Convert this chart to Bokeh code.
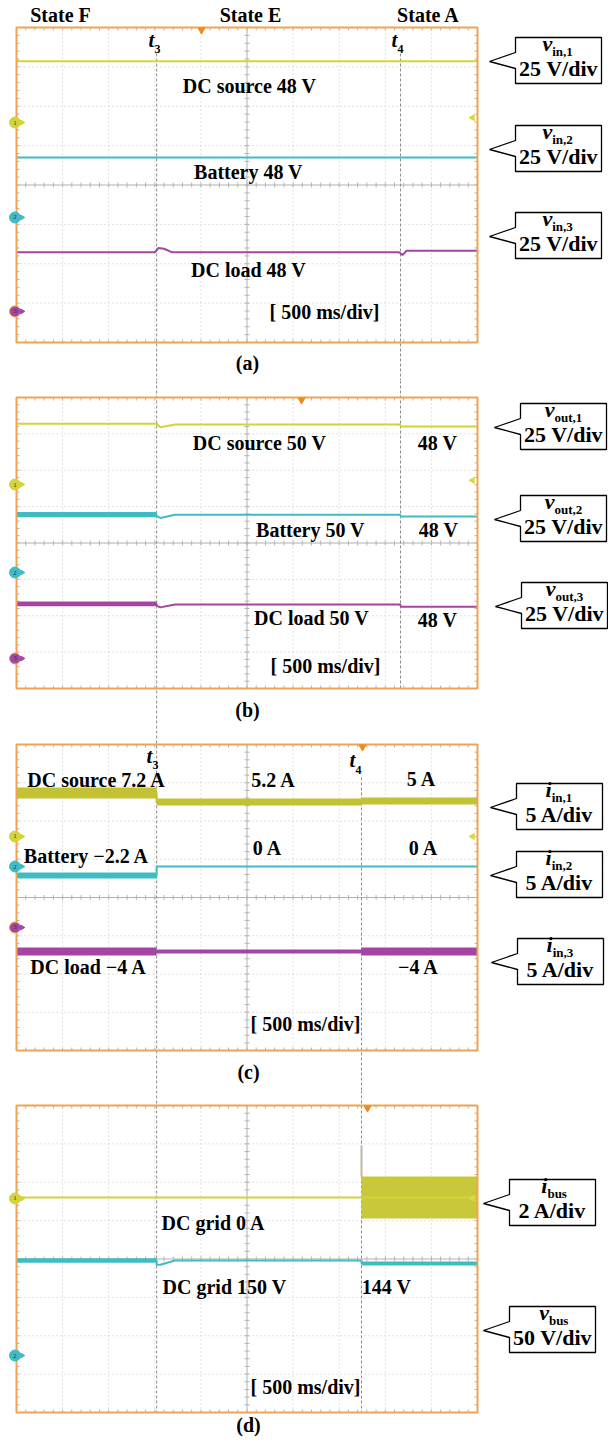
import math
from bokeh.plotting import figure
from bokeh.layouts import column
from bokeh.models import Range1d
from bokeh.embed import file_html
from bokeh.resources import INLINE
from bokeh.core.properties import value

# ---------------- DATA (time in ms, levels in screen divisions, +up, 0 = centre) ----------------
TIME_SPAN = 5000          # 10 div x 500 ms/div
T3 = 1520
T4_AB = 4165
T4_CD = 3742

# panel (a) input voltages
a_vin1_t = [0, 5000]
a_vin1_hi = [3.14, 3.14]
a_vin1_lo = [3.14, 3.14]
a_vin2_t = [0, 5000]
a_vin2_hi = [0.70, 0.70]
a_vin2_lo = [0.70, 0.70]
a_vin3_t = [0, 1500, 1540, 1600, 1690, 4150, 4187, 4230, 5000]
a_vin3_hi = [-1.71, -1.71, -1.60, -1.62, -1.71, -1.71, -1.78, -1.67, -1.67]
a_vin3_lo = a_vin3_hi

# panel (b) output voltages
b_vout1_t = [0, 1520, 1560, 1720, 4160, 4170, 5000]
b_vout1_hi = [3.28, 3.28, 3.18, 3.26, 3.26, 3.20, 3.20]
b_vout1_lo = b_vout1_hi
b_vout2_t = [0, 1520, 1520, 1560, 1720, 4160, 4170, 5000]
b_vout2_hi = [0.85, 0.85, 0.74, 0.69, 0.775, 0.775, 0.73, 0.73]
b_vout2_lo = [0.71, 0.71, 0.74, 0.69, 0.775, 0.775, 0.73, 0.73]
b_vout3_t = [0, 1520, 1520, 1560, 1720, 4160, 4170, 5000]
b_vout3_hi = [-1.61, -1.61, -1.72, -1.77, -1.69, -1.69, -1.75, -1.75]
b_vout3_lo = [-1.74, -1.74, -1.72, -1.77, -1.69, -1.69, -1.75, -1.75]

# panel (c) input currents
c_iin1_t = [0, 1520, 1520, 3742, 3742, 5000]
c_iin1_hi = [2.876, 2.876, 2.588, 2.588, 2.614, 2.614]
c_iin1_lo = [2.588, 2.588, 2.405, 2.405, 2.431, 2.431]
c_iin2_t = [0, 1520, 1520, 5000]
c_iin2_hi = [0.654, 0.654, 0.82, 0.82]
c_iin2_lo = [0.497, 0.497, 0.80, 0.80]
c_iin3_t = [0, 1520, 1520, 3742, 3742, 5000]
c_iin3_hi = [-1.307, -1.307, -1.36, -1.36, -1.307, -1.307]
c_iin3_lo = [-1.516, -1.516, -1.464, -1.464, -1.516, -1.516]

# panel (d) DC bus
d_ibus_t = [0, 3742, 3742, 5000]
d_ibus_hi = [1.60, 1.60, 2.15, 2.15]
d_ibus_lo = [1.60, 1.60, 1.055, 1.055]
d_ibus_spike = 2.96
d_vbus_t = [0, 1520, 1520, 1560, 1720, 3742, 3742, 5000]
d_vbus_hi = [0.02, 0.02, -0.15, -0.15, -0.04, -0.04, -0.065, -0.065]
d_vbus_lo = [-0.10, -0.10, -0.15, -0.15, -0.04, -0.04, -0.17, -0.17]

# channel ground markers (div) and trigger markers
a_markers = [1.587, -0.825, -3.21]
b_markers = [1.608, -0.811, -3.175]
c_markers = [1.595, 0.81, -0.784]
d_markers = [1.577, -2.515]
trig_level = {"a": 1.71, "b": 1.72, "c": 1.595, "d": 1.58}
trig_time = {"a": 2007, "b": 3091, "c": 3753, "d": 3807}

# ---------------- STYLE / LAYOUT ----------------
FONT = value("Liberation Serif")
ORANGE = "#f0a352"
YEL = "#d3d33a"
YEL_BAND = "#c2c232"
CYAN = "#3fbcc4"
PURP = "#a445a4"
GRID = "#c4c4c4"
TICK = "#b4b4b4"

SX0, SX1 = 16.0, 477.0       # screen left/right (page px)
FX0, FX1 = 0.0, 608.0        # figure extent (page px)


class Geo:
    def __init__(self, st, sb, ft, fb):
        self.st, self.sb, self.ft, self.fb = st, sb, ft, fb
        self.ppd = (sb - st) / 8.0

    def x(self, px):
        return (px - SX0) / (SX1 - SX0) * TIME_SPAN

    def y(self, py):
        return 4 - (py - self.st) / self.ppd

    def dx(self, px):
        return px / (SX1 - SX0) * TIME_SPAN

    def dy(self, px):
        return px / self.ppd


GEO = {
    "a": Geo(27, 342, 0, 380),
    "b": Geo(397, 688, 380, 730),
    "c": Geo(744, 1050, 730, 1090),
    "d": Geo(1105, 1412, 1090, 1440),
}


def make_fig(g):
    p = figure(width=int(FX1 - FX0), height=int(g.fb - g.ft),
               x_range=Range1d(g.x(FX0), g.x(FX1)),
               y_range=Range1d(g.y(g.fb), g.y(g.ft)),
               output_backend="svg", toolbar_location=None,
               x_axis_type=None, y_axis_type=None, title=None,
               min_border=0, outline_line_color=None)
    p.background_fill_color = "white"
    p.border_fill_color = "white"
    return p


def screen(p, g):
    for k in range(1, 10):
        if k == 5:
            continue
        p.line([k * 500, k * 500], [-4, 4], line_color=GRID, line_dash="1 3", line_width=1)
    for k in range(-3, 4):
        if k == 0:
            continue
        p.line([0, TIME_SPAN], [k, k], line_color=GRID, line_dash="1 3", line_width=1)
    p.line([2500, 2500], [-4, 4], line_color="#b0b0b0", line_width=1)
    p.line([0, TIME_SPAN], [0, 0], line_color="#b0b0b0", line_width=1)
    x0, x1, y0, y1 = [], [], [], []
    for k in range(1, 50):
        t = k * 100
        for (ya, yb) in [(-g.dy(2.5), g.dy(2.5)), (4, 4 - g.dy(3)), (-4, -4 + g.dy(3))]:
            x0.append(t); x1.append(t); y0.append(ya); y1.append(yb)
    for k in range(1, 40):
        v = -4 + k * 0.2
        for (xa, xb) in [(2500 - g.dx(2.5), 2500 + g.dx(2.5)), (0, g.dx(3)),
                         (TIME_SPAN, TIME_SPAN - g.dx(3))]:
            x0.append(xa); x1.append(xb); y0.append(v); y1.append(v)
    p.segment(x0, y0, x1, y1, line_color=TICK, line_width=1)


def border(p, g, key):
    p.quad(left=0, right=TIME_SPAN, bottom=-4, top=4, fill_color=None,
           line_color=ORANGE, line_width=2)
    p.scatter([trig_time[key]], [4 - g.dy(2.5)], marker="inverted_triangle",
              size=7, color="#f08a1e")
    p.scatter([TIME_SPAN - g.dx(5)], [trig_level[key]], marker="triangle",
              angle=math.pi / 2, size=6, color="#d8d840")


def vline(p, g, t, top_px, bot_px):
    a = max(top_px, g.ft)
    b = min(bot_px, g.fb)
    if b > a:
        p.line([t, t], [g.y(a), g.y(b)], line_color="#8c8c8c", line_dash="3 2", line_width=1)


def trace(p, t, hi, lo, color, band_color=None, width=2):
    mid = [(h + l) / 2 for h, l in zip(hi, lo)]
    p.varea(x=t, y1=lo, y2=hi, fill_color=band_color or color)
    p.line(t, mid, line_color=color, line_width=width)


def ground_markers(p, g, levels, colors, labels):
    xs = [g.x(14.5)] * len(levels)
    p.scatter(xs, levels, marker="circle", size=11,
              fill_color=colors, line_color=[ORANGE if c == PURP else c for c in colors], line_width=1)
    p.scatter([g.x(21.5)] * len(levels), levels, marker="triangle", angle=-math.pi / 2,
              size=5, color=colors)
    p.text(xs, levels, text=labels, text_font=FONT, text_font_size="7px",
           text_align="center", text_baseline="middle", text_color="#333333")


def txt(p, g, px, py, s, size=20, align="center", style="bold"):
    # py is the baseline position (page px); place the em-box middle above it
    p.text([g.x(px)], [g.y(py - 0.34 * size)], text=[s], text_font=FONT,
           text_font_size=f"{size}px", text_font_style=style, text_align=align,
           text_baseline="middle", text_color="black")


def callout(p, g, L, Y0, sym, sub, scale):
    W, H = 86, 46
    xs = [L, L + W, L + W, L, L, L - 26, L]
    ys = [Y0, Y0, Y0 + H, Y0 + H, Y0 + 31, Y0 + 24, Y0 + 15]
    p.patch([g.x(v) for v in xs], [g.y(v) for v in ys], fill_color="white",
            line_color="black", line_width=1.3)
    cx = L + W / 2
    wsub = 5.4 * len(sub)
    wv = 9 if sym == "v" else 6
    jx = cx + (wv - wsub) / 2
    txt(p, g, jx, Y0 + 13, sym, 22, "right", "bold italic")
    txt(p, g, jx, Y0 + 18, sub, 13, "left", "bold")
    txt(p, g, cx, Y0 + 38, scale, 22, "center", "bold")


def tlabel(p, g, px, py, sub, sub_dy=6):
    txt(p, g, px, py, "t", 21, "left", "bold italic")
    txt(p, g, px + 6, py + sub_dy, sub, 12, "left", "bold")


figs = []

for key in ["a", "b", "c", "d"]:
    g = GEO[key]
    p = make_fig(g)
    screen(p, g)
    vline(p, g, T3, 53, 1412)
    vline(p, g, T4_AB, 53, 688)
    vline(p, g, T4_CD, 777, 1412)

    if key == "a":
        trace(p, a_vin1_t, a_vin1_hi, a_vin1_lo, YEL)
        trace(p, a_vin2_t, a_vin2_hi, a_vin2_lo, CYAN)
        trace(p, a_vin3_t, a_vin3_hi, a_vin3_lo, PURP)
        border(p, g, key)
        ground_markers(p, g, a_markers, [YEL, CYAN, PURP], ["1", "2", "3"])
        txt(p, g, 60, 21, "State F")
        txt(p, g, 250, 21, "State E")
        txt(p, g, 428, 21, "State A")
        tlabel(p, g, 148, 47, "3")
        tlabel(p, g, 391, 47, "4")
        txt(p, g, 249, 92, "DC source 48 V")
        txt(p, g, 248, 178, "Battery 48 V")
        txt(p, g, 248, 276, "DC load 48 V")
        txt(p, g, 324, 318, "[ 500 ms/div]")
        txt(p, g, 247, 369, "(a)")
        callout(p, g, 515, 37, "v", "in,1", "25 V/div")
        callout(p, g, 515, 125, "v", "in,2", "25 V/div")
        callout(p, g, 515, 212, "v", "in,3", "25 V/div")
    elif key == "b":
        trace(p, b_vout1_t, b_vout1_hi, b_vout1_lo, YEL)
        trace(p, b_vout2_t, b_vout2_hi, b_vout2_lo, CYAN)
        trace(p, b_vout3_t, b_vout3_hi, b_vout3_lo, PURP)
        border(p, g, key)
        ground_markers(p, g, b_markers, [YEL, CYAN, PURP], ["1", "2", "3"])
        txt(p, g, 259, 449, "DC source 50 V")
        txt(p, g, 437, 449, "48 V")
        txt(p, g, 310, 536, "Battery 50 V")
        txt(p, g, 438, 536, "48 V")
        txt(p, g, 311, 624, "DC load 50 V")
        txt(p, g, 437, 626, "48 V")
        txt(p, g, 325, 672, "[ 500 ms/div]")
        txt(p, g, 247, 716, "(b)")
        callout(p, g, 520, 403, "v", "out,1", "25 V/div")
        callout(p, g, 520, 495, "v", "out,2", "25 V/div")
        callout(p, g, 521, 582, "v", "out,3", "25 V/div")
    elif key == "c":
        trace(p, c_iin1_t, c_iin1_hi, c_iin1_lo, YEL_BAND)
        trace(p, c_iin2_t, c_iin2_hi, c_iin2_lo, CYAN)
        trace(p, c_iin3_t, c_iin3_hi, c_iin3_lo, PURP)
        border(p, g, key)
        ground_markers(p, g, c_markers, [YEL, CYAN, PURP], ["1", "2", "3"])
        tlabel(p, g, 146, 763, "3")
        tlabel(p, g, 349, 767, "4", 7)
        txt(p, g, 96, 786, "DC source 7.2 A")
        txt(p, g, 273, 786, "5.2 A")
        txt(p, g, 421, 785, "5 A")
        txt(p, g, 86, 862, "Battery \u22122.2 A")
        txt(p, g, 267, 854, "0 A")
        txt(p, g, 423, 854, "0 A")
        txt(p, g, 88, 973, "DC load \u22124 A")
        txt(p, g, 418, 973, "\u22124 A")
        txt(p, g, 305, 1030, "[ 500 ms/div]")
        txt(p, g, 248, 1078, "(c)")
        callout(p, g, 516, 783, "i", "in,1", "5 A/div")
        callout(p, g, 516, 851, "i", "in,2", "5 A/div")
        callout(p, g, 517, 938, "i", "in,3", "5 A/div")
    else:
        p.line([T4_CD, T4_CD], [max(d_ibus_hi), d_ibus_spike], line_color="#b9b9a8", line_width=2)
        trace(p, d_ibus_t, d_ibus_hi, d_ibus_lo, YEL, band_color="#c8c83a")
        trace(p, d_vbus_t, d_vbus_hi, d_vbus_lo, CYAN)
        border(p, g, key)
        ground_markers(p, g, d_markers, [YEL, CYAN], ["1", "2"])
        txt(p, g, 213, 1229, "DC grid 0 A")
        txt(p, g, 224, 1293, "DC grid 150 V")
        txt(p, g, 386, 1293, "144 V")
        txt(p, g, 305, 1393, "[ 500 ms/div]")
        txt(p, g, 248, 1431, "(d)")
        callout(p, g, 509, 1179, "i", "bus", "2 A/div")
        callout(p, g, 509, 1306, "v", "bus", "50 V/div")
    figs.append(p)

layout = column(*figs, spacing=0)
open("out.html", "w").write(file_html(layout, INLINE))
